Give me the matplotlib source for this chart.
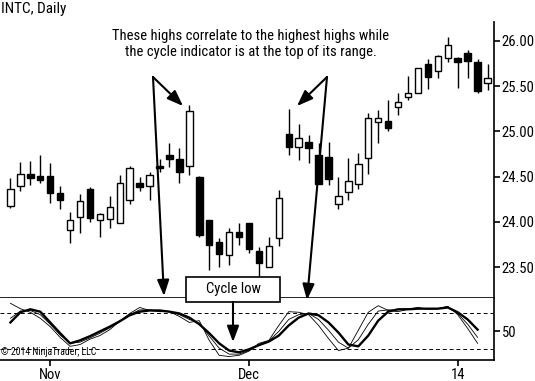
import numpy as np
import matplotlib.pyplot as plt
from matplotlib.patches import Rectangle

plt.rcParams['font.family'] = ['Roboto Condensed', 'DejaVu Sans']

# INTC daily bars, late Oct 2013 to early Jan 2014
opens = [24.17, 24.40, 24.53, 24.51, 24.51, 24.32, 23.91, 24.05, 24.36, 24.02,
         24.03, 23.99, 24.24, 24.43, 24.40, 24.62, 24.74, 24.70, 24.62, 24.50,
         24.02, 23.78, 23.63, 23.89, 23.99, 23.68, 23.50, 23.82, 24.97, 24.83,
         24.88, 24.74, 24.72, 24.20, 24.33, 24.42, 24.71, 25.10, 25.12, 25.27,
         25.38, 25.42, 25.75, 25.67, 25.81, 25.81, 25.87, 25.77, 25.54]
highs = [24.49, 24.66, 24.67, 24.74, 24.65, 24.40, 24.11, 24.31, 24.38, 24.10,
         24.29, 24.52, 24.62, 24.50, 24.55, 24.69, 24.87, 24.82, 25.29, 24.51,
         24.02, 23.82, 23.93, 23.99, 23.99, 23.72, 23.83, 24.35, 25.25, 25.08,
         24.96, 24.87, 24.88, 24.50, 24.71, 24.76, 25.20, 25.24, 25.35, 25.42,
         25.61, 25.70, 25.80, 25.85, 26.04, 25.82, 25.90, 25.80, 25.75]
lows = [24.15, 24.34, 24.41, 24.43, 24.21, 24.14, 23.77, 23.88, 24.00, 23.83,
        23.93, 23.99, 24.20, 24.34, 24.24, 24.55, 24.61, 24.43, 24.52, 23.83,
        23.47, 23.50, 23.52, 23.74, 23.65, 23.39, 23.50, 23.73, 24.74, 24.68,
        24.65, 24.42, 24.41, 24.14, 24.24, 24.36, 24.53, 24.87, 25.00, 25.18,
        25.35, 25.42, 25.47, 25.59, 25.77, 25.48, 25.59, 25.43, 25.46]
closes = [24.36, 24.53, 24.49, 24.46, 24.32, 24.24, 24.02, 24.23, 24.04, 24.09,
          24.16, 24.43, 24.60, 24.39, 24.52, 24.59, 24.69, 24.55, 25.23, 23.85,
          23.74, 23.64, 23.89, 23.83, 23.70, 23.54, 23.73, 24.26, 24.83, 24.93,
          24.82, 24.42, 24.47, 24.29, 24.45, 24.64, 25.15, 25.15, 25.04, 25.32,
          25.42, 25.70, 25.60, 25.83, 25.96, 25.77, 25.78, 25.45, 25.59]

# cycle indicator lines
cycle_slow = [65, 82, 87, 83, 65, 47, 30, 35, 42, 50, 58, 67, 77, 83, 85, 85,
              83, 80, 73, 62, 47, 30, 18, 15, 20, 27, 33, 43, 60, 73, 80, 77,
              65, 48, 28, 25, 43, 68, 83, 87, 87, 88, 88, 88, 90, 82, 70, 53]
cycle_fast = [97, 88, 82, 72, 58, 40, 25, 28, 37, 43, 53, 67, 80, 90, 85, 83,
              83, 75, 65, 68, 35, 10, 8, 10, 17, 30, 35, 60, 83, 82, 78, 60,
              38, 18, 22, 52, 82, 93, 85, 83, 87, 90, 87, 88, 92, 78, 55, 30]
cycle_mid = [72, 84, 85, 78, 62, 44, 30, 32, 39, 47, 56, 66, 78, 86, 86, 84,
             83, 78, 70, 64, 42, 22, 12, 12, 18, 28, 34, 50, 70, 78, 80, 70,
             52, 32, 22, 36, 62, 84, 86, 86, 88, 89, 88, 88, 91, 80, 62, 40]

price_ticks = [23.5, 24.0, 24.5, 25.0, 25.5, 26.0]
date_ticks = [4, 24, 45]
date_labels = ['Nov', 'Dec', '14']

W, H = 535, 381
fig = plt.figure(figsize=(W / 100, H / 100), dpi=100)


def rect(top, bottom, right=493.5):
    return [0, 1 - bottom / H, right / W, (bottom - top) / H]


ax = fig.add_axes(rect(22, 297.5))
ax2 = fig.add_axes(rect(297.5, 359.5))

# candles
x = np.arange(len(opens))
o = np.array(opens)
c = np.array(closes)
up = c >= o
ax.vlines(x, lows, highs, color='black', lw=1, zorder=1)
ax.bar(x[up], (c - o)[up], bottom=o[up], width=0.65, facecolor='white',
       edgecolor='black', lw=1, zorder=2)
ax.bar(x[~up], (o - c)[~up], bottom=c[~up], width=0.65, color='black',
       edgecolor='black', lw=1, zorder=2)

ax.set_xlim(-1.05, 48.6)
ax.set_ylim(23.163, 26.21)
ax.yaxis.tick_right()
ax.set_yticks(price_ticks)
ax.set_yticklabels(['%.2f' % p for p in price_ticks])
ax.set_xticks([])
ax.tick_params(axis='y', direction='out', length=4, width=1.2, labelsize=10.5, pad=2)
for s in ['left', 'top']:
    ax.spines[s].set_visible(False)
ax.spines['right'].set_linewidth(1.2)
ax.spines['bottom'].set_linewidth(1.2)

# cycle indicator
xi = np.arange(len(cycle_slow))
ax2.plot(xi, cycle_fast, color='black', lw=0.6)
ax2.plot(xi, cycle_mid, color='black', lw=0.6)
ax2.plot(xi, cycle_slow, color='black', lw=1.7)
ax2.axhline(80, color='black', lw=0.7, ls=(0, (4, 3)))
ax2.axhline(20, color='black', lw=0.7, ls=(0, (4, 3)))
ax2.set_xlim(-1.05, 48.6)
ax2.set_ylim(3.0, 106.7)
ax2.yaxis.tick_right()
ax2.set_yticks([50])
ax2.set_xticks(date_ticks)
ax2.set_xticklabels(date_labels)
ax2.tick_params(direction='out', length=4, width=1.2, labelsize=10.5, pad=2)
for s in ['left', 'top']:
    ax2.spines[s].set_visible(False)
ax2.spines['right'].set_linewidth(1.2)
ax2.spines['bottom'].set_linewidth(1.2)

# annotations in pixel space
ov = fig.add_axes([0, 0, 1, 1], facecolor='none')
ov.set_xlim(0, W)
ov.set_ylim(H, 0)
ov.axis('off')

arrow = dict(arrowstyle='-|>,head_length=0.8,head_width=0.3', color='black',
             lw=1.5, shrinkA=0, shrinkB=0, mutation_scale=12)
for tip, apex in [((183, 106), (153, 77)), ((164, 296), (153, 77)),
                  ((297, 106), (327, 77)), ((307, 300), (327, 77))]:
    ov.annotate('', xy=tip, xytext=apex, arrowprops=arrow)

ov.text(251, 44, 'These highs correlate to the highest highs while\n'
        'the cycle indicator is at the top of its range.',
        ha='center', va='center', fontsize=10.5, linespacing=1.25)
ov.text(1, 2, 'INTC, Daily', ha='left', va='top', fontsize=11)

ov.add_patch(Rectangle((186, 277), 94, 25, facecolor='white',
                       edgecolor='black', lw=1.2))
ov.text(233, 289.5, 'Cycle low', ha='center', va='center', fontsize=10.5)
ov.annotate('', xy=(233, 342), xytext=(233, 302), arrowprops=arrow)

ov.text(1, 357, '\u00a9 2014 NinjaTrader, LLC', ha='left', va='bottom', fontsize=7)

fig.savefig('out.png', dpi=100)
